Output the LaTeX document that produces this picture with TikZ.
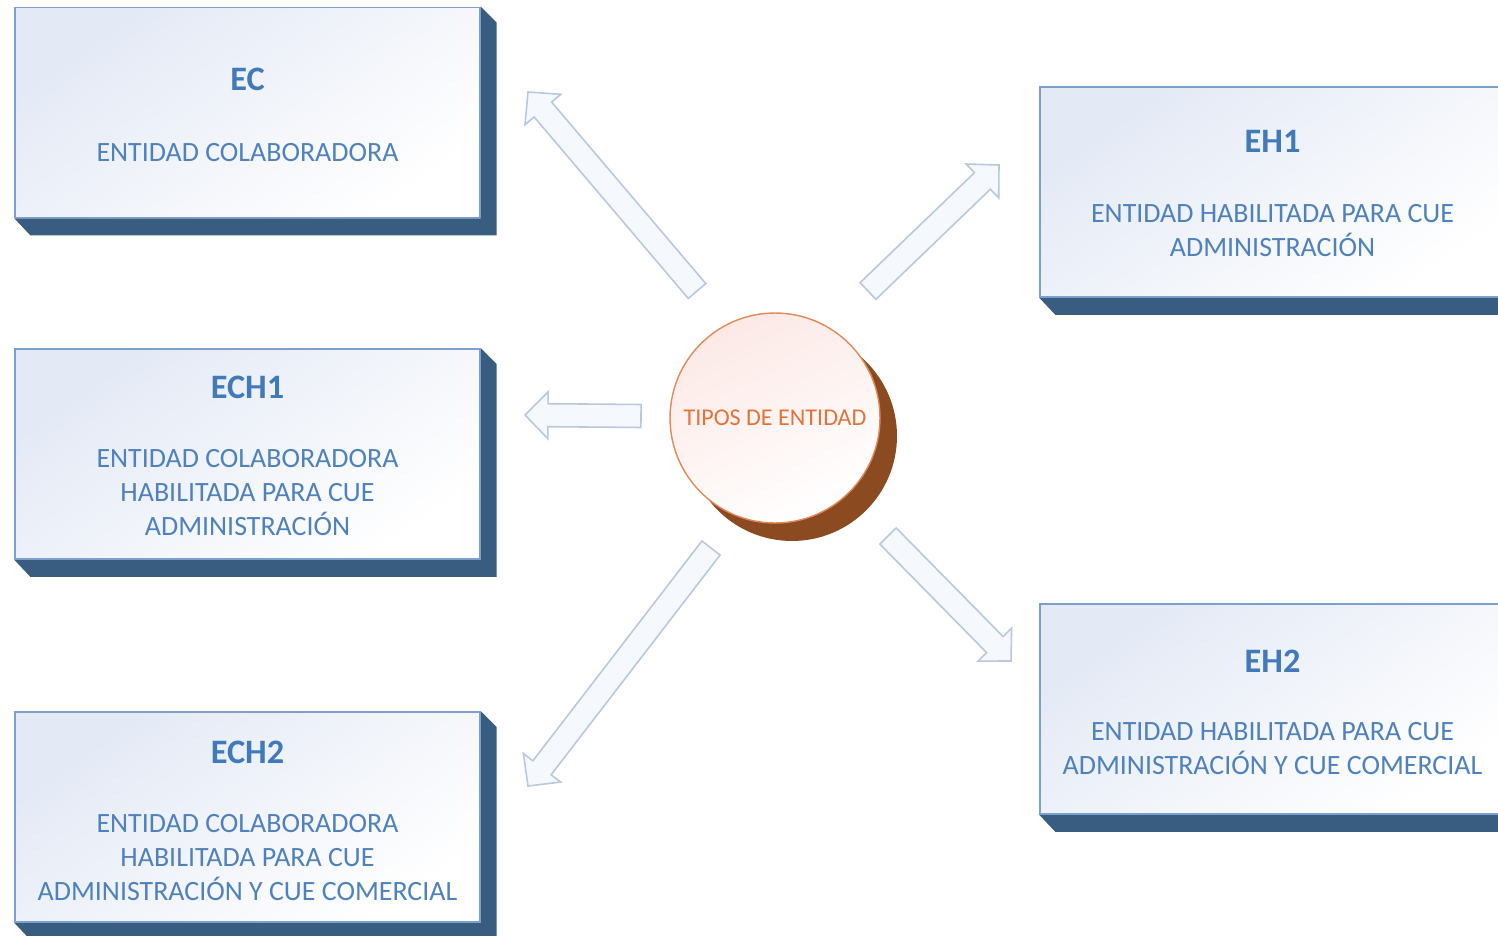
\documentclass[tikz,border=0pt]{standalone}
\usepackage{fontspec}
\setmainfont{Carlito}
\usetikzlibrary{calc,shadings}
\pgfdeclarelayer{background}
\pgfsetlayers{background,main}
\definecolor{extcol}{HTML}{385D80}
\definecolor{boxborder}{HTML}{7BA0CD}
\definecolor{boxtop}{HTML}{E3E9F5}
\definecolor{boxmid}{HTML}{F8FAFD}
\definecolor{titlecol}{HTML}{4279B9}
\definecolor{textcol}{HTML}{4F81BD}
\definecolor{circborder}{HTML}{E08A5A}
\definecolor{circtext}{HTML}{E2743A}
\definecolor{circtop}{HTML}{FCE9E6}
\definecolor{shadowbrown}{HTML}{8B4A1F}
\definecolor{arrowborder}{HTML}{B8C8DD}
\definecolor{arrowfill}{HTML}{F5F8FC}
\tikzset{
  frontbox/.style={draw=boxborder, line width=0.9pt, top color=boxtop, middle color=boxmid, bottom color=white, shading angle=35,
    minimum width=9.3cm, minimum height=4.2cm, inner sep=0pt},
  extrusion/.style={fill=extcol},
  titletext/.style={text=titlecol, font=\fontsize{19.5pt}{23pt}\selectfont\bfseries, inner sep=0pt, anchor=base},
  bodytext/.style={text=textcol, font=\fontsize{15.9pt}{19.35pt}\selectfont, inner sep=0pt, align=center, anchor=base},
  arrowstyle/.style={draw=arrowborder, fill=arrowfill, line width=0.9pt, line join=miter},
}
\newcommand{\blockarrow}[3]{%
  \coordinate (#1n) at ($(#3)!0.46cm!(#2)$);
  \filldraw[arrowstyle] ($(#2)!0.23cm!90:(#3)$) -- ($(#1n)!0.23cm!90:(#3)$) -- ($(#1n)!0.47cm!90:(#3)$) -- (#3)
    -- ($(#1n)!0.47cm!-90:(#3)$) -- ($(#1n)!0.23cm!-90:(#3)$) -- ($(#2)!0.23cm!-90:(#3)$) -- cycle;}
\newcommand{\extr}[1]{%
  \begin{pgfonlayer}{background}
  \fill[extrusion] (#1.north east) -- ++(16,16) -- ($(#1.south east)+(16,17)$) -- ($(#1.south west)+(16,17)$)
    -- (#1.south west) -- (#1.south east) -- cycle;
  \end{pgfonlayer}}
\begin{document}
\begin{tikzpicture}[x=0.02cm, y=-0.02cm]
\useasboundingbox (0,0) rectangle (1498,936);
\clip (0,0) rectangle (1498,936);

% boxes
\node[frontbox] (ec) at (247.5,112.5) {};
\extr{ec}
\node[titletext] (ect) at (247.5,91) {EC};
\node[bodytext] (ecb) at (247.5,161) {ENTIDAD COLABORADORA};

\node[frontbox] (ech1) at (247.5,454) {};
\extr{ech1}
\node[titletext] (ech1t) at (247.5,398) {ECH1};
\node[bodytext, anchor=north] (ech1b) at (247.5,449) {ENTIDAD COLABORADORA\\HABILITADA PARA CUE\\ADMINISTRACIÓN};

\node[frontbox] (ech2) at (247.5,817) {};
\extr{ech2}
\node[titletext] (ech2t) at (247.5,763) {ECH2};
\node[bodytext, anchor=north] (ech2b) at (247.5,814) {ENTIDAD COLABORADORA\\HABILITADA PARA CUE\\ADMINISTRACIÓN Y CUE COMERCIAL};

\node[frontbox] (eh1) at (1272.5,192) {};
\extr{eh1}
\node[titletext] (eh1t) at (1272.5,153) {EH1};
\node[bodytext, anchor=north] (eh1b) at (1272.5,204) {ENTIDAD HABILITADA PARA CUE\\ADMINISTRACIÓN};

\node[frontbox] (eh2) at (1272.5,709) {};
\extr{eh2}
\node[titletext] (eh2t) at (1272.5,672) {EH2};
\node[bodytext, anchor=north] (eh2b) at (1272.5,722) {ENTIDAD HABILITADA PARA CUE\\ADMINISTRACIÓN Y CUE COMERCIAL};

% circle
\fill[shadowbrown] (792,436) circle[radius=2.1cm];
\node[circle, draw=circborder, line width=0.8pt, top color=circtop, bottom color=white, shading angle=25,
  minimum size=4.2cm, inner sep=0pt, text=circtext, font=\fontsize{13.7pt}{16pt}\selectfont] (tipos) at (775,418) {TIPOS DE ENTIDAD};

% block arrows
\coordinate (a1t) at (697,291); \coordinate (a1h) at (528,92);
\coordinate (a2t) at (868,291); \coordinate (a2h) at (999,165);
\coordinate (a3t) at (641,416); \coordinate (a3h) at (525,415);
\coordinate (a4t) at (711,548); \coordinate (a4h) at (528,786);
\coordinate (a5t) at (888,536); \coordinate (a5h) at (1011,661);
\blockarrow{a1}{a1t}{a1h}
\blockarrow{a2}{a2t}{a2h}
\blockarrow{a3}{a3t}{a3h}
\blockarrow{a4}{a4t}{a4h}
\blockarrow{a5}{a5t}{a5h}
\end{tikzpicture}
\end{document}
